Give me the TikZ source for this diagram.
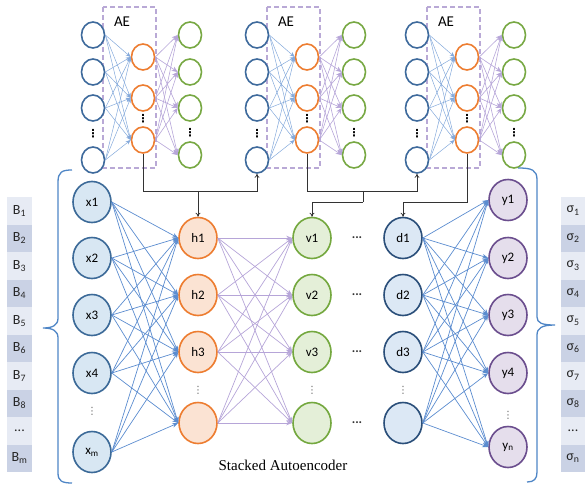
\documentclass[tikz,border=0pt]{standalone}
\usepackage{fontspec}
\setmainfont{Liberation Serif}
\newfontfamily\labfont{Carlito}
\newfontfamily\symfont{DejaVu Sans}
\usetikzlibrary{arrows.meta,shapes.geometric}

\definecolor{aeblue}{HTML}{3E6A9C}
\definecolor{aeorange}{HTML}{ED7D31}
\definecolor{aegreen}{HTML}{77A843}
\definecolor{boxlav}{HTML}{B9A9D6}
\definecolor{xfill}{HTML}{D8E7F3}
\definecolor{xdraw}{HTML}{3C6A98}
\definecolor{hfill}{HTML}{FBE3D3}
\definecolor{vfill}{HTML}{E4EFD8}
\definecolor{vdraw}{HTML}{74A83F}
\definecolor{dfill}{HTML}{DCE8F5}
\definecolor{ddraw}{HTML}{2B4F7A}
\definecolor{yfill}{HTML}{E5DEEC}
\definecolor{ydraw}{HTML}{6B4E8E}
\definecolor{edgeblue}{HTML}{5B8CCF}
\definecolor{edgepurple}{HTML}{B6A5D8}
\definecolor{rowlight}{HTML}{E7EBF4}
\definecolor{rowdark}{HTML}{CAD2E5}
\definecolor{bracecol}{HTML}{4F86C6}

\newcommand\celldots{...}

\tikzset{
  aecirc/.style={ellipse,draw,line width=1.6pt,fill=white,minimum width=23pt,minimum height=26pt,inner sep=0pt},
  aein/.style={aecirc,draw=aeblue},
  aehid/.style={aecirc,draw=aeorange},
  aeout/.style={aecirc,draw=aegreen},
  aebox/.style={draw=boxlav,dashed,line width=1.4pt,dash pattern=on 5pt off 3pt},
  unit/.style={ellipse,line width=1.6pt,minimum width=38pt,minimum height=41pt,inner sep=0pt,font=\labfont\fontsize{13}{15}\selectfont},
  xunit/.style={unit,draw=xdraw,fill=xfill},
  hunit/.style={unit,draw=aeorange,fill=hfill},
  vunit/.style={unit,draw=vdraw,fill=vfill},
  dunit/.style={unit,draw=ddraw,fill=dfill},
  yunit/.style={unit,draw=ydraw,fill=yfill},
  topblue/.style={draw=edgeblue!75,line width=0.5pt,-{Stealth[length=5pt,width=4pt]}},
  toppurple/.style={draw=edgepurple,line width=0.6pt,-{Stealth[length=6pt,width=5pt]}},
  netblue/.style={draw=edgeblue,line width=0.7pt,-{Stealth[length=6pt,width=4.5pt]}},
  netpurple/.style={draw=edgepurple,line width=0.7pt,-{Stealth[length=6pt,width=4.5pt]}},
  feed/.style={draw=black!80,line width=0.8pt},
  feedarrow/.style={feed,-{To[length=4pt,width=5pt]}},
  vdotsbold/.style={inner sep=0pt,text=black,font=\symfont\bfseries\fontsize{11}{11}\selectfont},
  vdotsgray/.style={inner sep=0pt,text=black!60,font=\symfont\fontsize{10}{10}\selectfont},
  hdots/.style={inner sep=0pt,text=black!80,font=\labfont\bfseries\fontsize{13}{13}\selectfont},
  cell/.style={rectangle,minimum width=25pt,minimum height=27.5pt,inner sep=0pt,font=\labfont\fontsize{14}{16}\selectfont,text=black!85},
  brace/.style={draw=bracecol,line width=1.3pt},
}

\begin{document}
\begin{tikzpicture}[x=1pt,y=-1pt]
\useasboundingbox (0,0) rectangle (585,486);

% three single autoencoders
\foreach \g/\dx in {1/0,2/164,3/324} {
  \draw[aebox] (103+\dx,7) rectangle (156+\dx,168);
  \node[font=\labfont\fontsize{15}{17}\selectfont] (ae\g) at (122+\dx,22) {AE};
  \foreach \i/\yy in {1/35,2/72,3/108,4/160}
    \node[aein] (a\g i\i) at (93+\dx,\yy) {};
  \foreach \i/\yy in {1/57,2/98,3/140}
    \node[aehid] (a\g h\i) at (143+\dx,\yy) {};
  \foreach \i/\yy in {1/35,2/72,3/108,4/155}
    \node[aeout] (a\g o\i) at (190+\dx,\yy) {};
  \node[vdotsbold] (a\g di) at (93+\dx,134) {⋮};
  \node[vdotsbold] (a\g dh) at (143+\dx,119) {⋮};
  \node[vdotsbold] (a\g do) at (190+\dx,133) {⋮};
  \foreach \i in {1,2,3,4} \foreach \j in {1,2,3}
    \draw[topblue] (a\g i\i.east) -- (a\g h\j.west);
  \foreach \j in {1,2,3} \foreach \k in {1,2,3,4}
    \draw[toppurple] (a\g h\j.east) -- (a\g o\k.west);
}

% stacked network
\foreach \i/\yy/\t in {1/202/x1,2/258/x2,3/315/x3,4/373/x4,5/452/x\textsubscript{m}}
  \node[xunit] (x\i) at (92,\yy) {\t};
\foreach \i/\yy/\t in {1/238/h1,2/295/h2,3/352/h3,4/423/{}}
  \node[hunit] (h\i) at (198,\yy) {\t};
\foreach \i/\yy/\t in {1/238/v1,2/295/v2,3/352/v3,4/423/{}}
  \node[vunit] (v\i) at (312,\yy) {\t};
\foreach \i/\yy/\t in {1/238/d1,2/295/d2,3/352/d3,4/423/{}}
  \node[dunit] (d\i) at (403,\yy) {\t};
\foreach \i/\yy/\t in {1/200/y1,2/258/y2,3/315/y3,4/373/y4,5/447/y\textsubscript{n}}
  \node[yunit] (y\i) at (508,\yy) {\t};
\foreach \i/\yy in {1/238,2/295,3/352,4/423}
  \node[hdots] (e\i) at (357,\yy) {\celldots};

\node[vdotsgray] (xd) at (92,411) {⋮};
\node[vdotsgray] (hd) at (198,390) {⋮};
\node[vdotsgray] (vd) at (312,390) {⋮};
\node[vdotsgray] (dd) at (403,390) {⋮};
\node[vdotsgray] (yd) at (508,415) {⋮};

\foreach \i in {1,2,3,4,5} \foreach \j in {1,2,3,4}
  \draw[netblue] (x\i.east) -- (h\j.west);
\foreach \i in {1,2,3,4} \foreach \j in {1,2,3,4}
  \draw[netpurple] (h\i.east) -- (v\j.west);
\foreach \i in {1,2,3,4} \foreach \j in {1,2,3,4,5}
  \draw[netblue] (d\i.east) -- (y\j.west);

\node[font=\fontsize{15}{17}\selectfont] (title) at (283,465) {Stacked Autoencoder};

% feeding the hidden codes forward
\coordinate (j1) at (143,191);
\coordinate (j2) at (307,191);
\coordinate (j3) at (363,202);
\coordinate (j4) at (403,202);
\draw[feed] (a1h3.south) -- (j1);
\draw[feedarrow] (j1) -| (a2i4.south);
\draw[feedarrow] (j1 -| h1) -- (h1.north);
\draw[feed] (a2h3.south) -- (j2);
\draw[feedarrow] (j2) -| (a3i4.south);
\draw[feed] (j2 -| j3) -- (j3);
\draw[feedarrow] (j3) -| (v1.north);
\draw[feedarrow] (a3h3.south) |- (j4) -- (d1.north);

% braces
\draw[brace] (72,170) .. controls (62,170) and (58,172) .. (58,182) -- (58,318)
  .. controls (58,325) and (53,328) .. (43,328)
  .. controls (53,328) and (58,331) .. (58,338) -- (58,473)
  .. controls (58,481) and (62,483) .. (72,483);
\draw[brace] (518,168) .. controls (532,168) and (537,170) .. (537,180) -- (537,317)
  .. controls (537,323) and (542,325) .. (555,325)
  .. controls (542,325) and (537,328) .. (537,335) -- (537,472)
  .. controls (537,479) and (534,482) .. (527,482);

% band tables
\foreach \i/\t in {1/B\textsubscript{1},2/B\textsubscript{2},3/B\textsubscript{3},4/B\textsubscript{4},5/B\textsubscript{5},6/B\textsubscript{6},7/B\textsubscript{7},8/B\textsubscript{8},9/\celldots,10/B\textsubscript{m}} {
  \pgfmathsetmacro\cy{197+27.5*(\i-0.5)}
  \pgfmathtruncatemacro\odd{mod(\i,2)}
  \ifnum\odd=1 \def\cc{rowlight}\else\def\cc{rowdark}\fi
  \node[cell,fill=\cc] (b\i) at (19.5,\cy) {\t};
}
\foreach \i/\t in {1/σ\textsubscript{1},2/σ\textsubscript{2},3/σ\textsubscript{3},4/σ\textsubscript{4},5/σ\textsubscript{5},6/σ\textsubscript{6},7/σ\textsubscript{7},8/σ\textsubscript{8},9/\celldots,10/σ\textsubscript{n}} {
  \pgfmathsetmacro\cy{197+27.5*(\i-0.5)}
  \pgfmathtruncatemacro\odd{mod(\i,2)}
  \ifnum\odd=1 \def\cc{rowlight}\else\def\cc{rowdark}\fi
  \node[cell,fill=\cc] (s\i) at (573,\cy) {\t};
}
\end{tikzpicture}
\end{document}
